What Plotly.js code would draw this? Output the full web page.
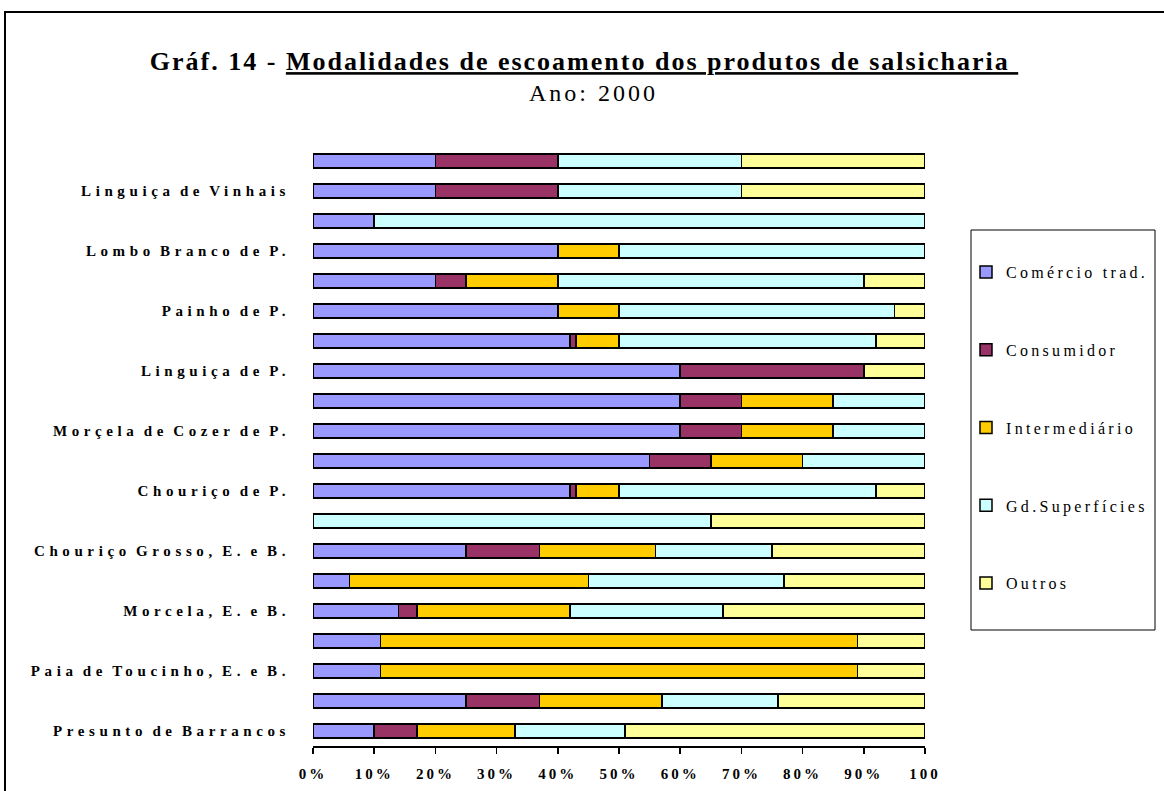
<!DOCTYPE html>
<html>
<head>
<meta charset="utf-8">
<script src="https://cdn.plot.ly/plotly-3.0.1.min.js"></script>
<style>
  html, body { margin: 0; padding: 0; background: #ffffff; }
  #chart { position: absolute; left: 0; top: 0; width: 1164px; height: 791px; }
  #frame { position: absolute; left: 4px; top: 11px; width: 1200px; height: 900px;
           border-left: 2px solid #000; border-top: 2px solid #000; pointer-events: none; }
  .ytick text { letter-spacing: 4.6px; word-spacing: -3px; }
  .xtick text { letter-spacing: 3px; }
  .legendtext { letter-spacing: 3.3px; }
  .gtitle { letter-spacing: 2px; }
  .annotation-text { letter-spacing: 3px; }
</style>
</head>
<body>
<div id="chart"></div>
<div id="frame"></div>
<script>
// Row labels (top to bottom); unlabeled rows are empty strings
const categories = [
  "", "Linguiça de Vinhais",
  "", "Lombo Branco de P.",
  "", "Painho de P.",
  "", "Linguiça de P.",
  "", "Morçela de Cozer de P.",
  "", "Chouriço de P.",
  "", "Chouriço Grosso, E. e B.",
  "", "Morcela, E. e B.",
  "", "Paia de Toucinho, E. e B.",
  "", "Presunto de Barrancos"
];

const seriesNames = ["Comércio trad.", "Consumidor", "Intermediário", "Gd.Superfícies", "Outros"];

const comercioTrad  = [20, 20, 10, 40, 20, 40, 42, 60, 60, 60, 55, 42,  0, 25,  6, 14, 11, 11, 25, 10];
const consumidor    = [20, 20,  0,  0,  5,  0,  1, 30, 10, 10, 10,  1,  0, 12,  0,  3,  0,  0, 12,  7];
const intermediario = [ 0,  0,  0, 10, 15, 10,  7,  0, 15, 15, 15,  7,  0, 19, 39, 25, 78, 78, 20, 16];
const gdSuperficies = [30, 30, 90, 50, 50, 45, 42,  0, 15, 15, 20, 42, 65, 19, 32, 25,  0,  0, 19, 18];
const outros        = [30, 30,  0,  0, 10,  5,  8, 10,  0,  0,  0,  8, 35, 25, 23, 33, 11, 11, 24, 49];

const xTickVals = [0, 10, 20, 30, 40, 50, 60, 70, 80, 90, 100];
const xTickText = ["0%", "10%", "20%", "30%", "40%", "50%", "60%", "70%", "80%", "90%", "100"];

const colors = ["#9999FF", "#993366", "#FFCC00", "#CCFFFF", "#FFFF99"];
const allSeries = [comercioTrad, consumidor, intermediario, gdSuperficies, outros];

const rowIdx = categories.map((_, i) => i);

const traces = allSeries.map((vals, k) => ({
  type: "bar",
  orientation: "h",
  name: seriesNames[k],
  legendgroup: "g" + k,
  x: vals,
  y: rowIdx,
  width: 0.47,
  marker: { color: colors[k], line: { color: "#000000", width: 1.5 } },
  hoverinfo: "x+name"
}));

const W = 1164, H = 791;
const mL = 313, mR = 239, mT = 146, mB = 45;
const pw = W - mL - mR, ph = H - mT - mB;
const px = v => (v - mL) / pw;
const py = v => (H - mB - v) / ph;

const layout = {
  width: W, height: H,
  margin: { l: mL, r: mR, t: mT, b: mB, pad: 0, autoexpand: false },
  paper_bgcolor: "#ffffff",
  plot_bgcolor: "#ffffff",
  barmode: "stack",
  showlegend: true,
  font: { family: "Liberation Serif, Times New Roman, serif", color: "#000000" },
  title: {
    text: "<b>Gráf. 14 - <u>Modalidades de escoamento dos produtos de salsicharia </u></b>",
    font: { family: "Liberation Serif, serif", size: 26, color: "#000000" },
    xref: "container", x: 584 / W, xanchor: "center",
    yref: "container", y: 1 - 61 / H, yanchor: "middle"
  },
  annotations: [{
    text: "Ano: 2000",
    xref: "paper", yref: "paper",
    x: px(593), y: py(93), xanchor: "center", yanchor: "middle",
    showarrow: false,
    font: { family: "Liberation Serif, serif", size: 24, color: "#000000" }
  }],
  xaxis: {
    range: [0, 100],
    tickvals: xTickVals,
    ticktext: xTickText,
    showgrid: false,
    zeroline: false,
    showline: true,
    linecolor: "#000000",
    linewidth: 2,
    ticks: "outside",
    ticklen: 6,
    tickwidth: 1.5,
    tickcolor: "#000000",
    ticklabelstandoff: 7,
    tickfont: { family: "Liberation Serif, serif", size: 15, color: "#000000", weight: "bold" },
    fixedrange: true
  },
  yaxis: {
    range: [19.5, -0.5],
    tickvals: rowIdx,
    ticktext: categories,
    showgrid: false,
    zeroline: false,
    showline: false,
    ticks: "",
    ticklabelstandoff: 22,
    tickfont: { family: "Liberation Serif, serif", size: 15, color: "#000000", weight: "bold" },
    fixedrange: true
  },
  legend: {
    x: px(966), xanchor: "left",
    y: py(255), yanchor: "top",
    orientation: "v",
    traceorder: "grouped",
    tracegroupgap: 54,
    bgcolor: "rgba(0,0,0,0)",
    borderwidth: 0,
    font: { family: "Liberation Serif, serif", size: 16, color: "#000000" }
  },
  shapes: [{
    type: "rect", xref: "paper", yref: "paper",
    x0: px(971), x1: px(1155), y0: py(630), y1: py(230),
    line: { color: "#000000", width: 1 },
    fillcolor: "rgba(0,0,0,0)"
  }]
};

Plotly.newPlot("chart", traces, layout, { displayModeBar: false, staticPlot: true });
</script>
</body>
</html>
